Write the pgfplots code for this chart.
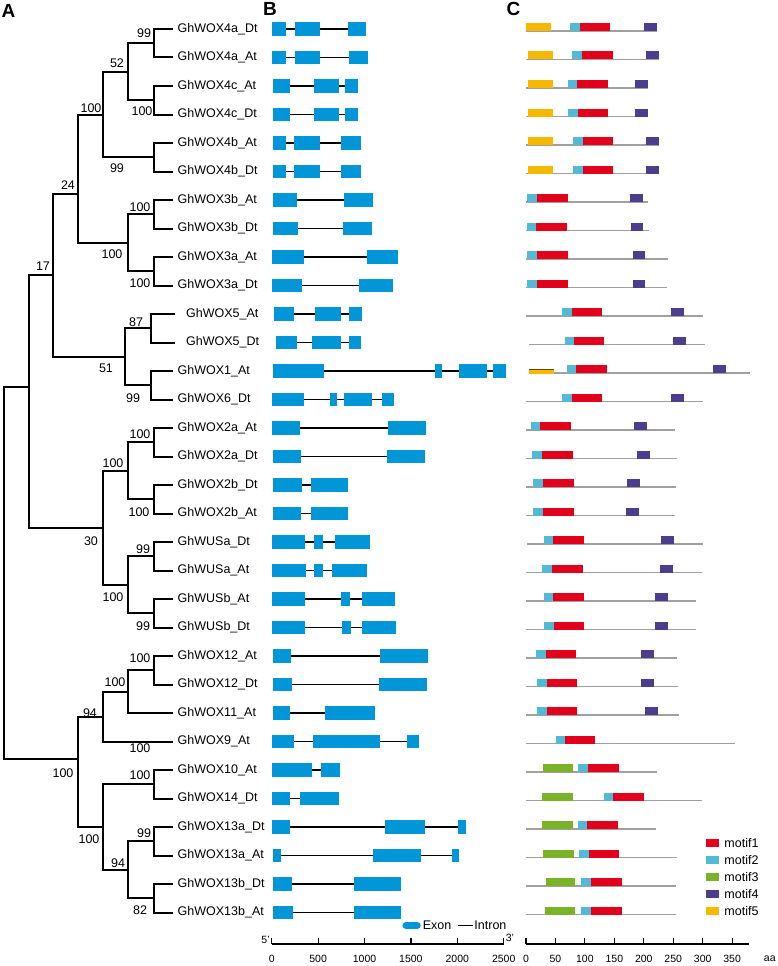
\documentclass[border=0pt]{standalone}
\usepackage{fontspec}
\setmainfont{Liberation Sans}
\usepackage{pgfplots}
\pgfplotsset{compat=1.18}
\definecolor{exonblue}{RGB}{0,150,215}
\definecolor{mred}{RGB}{226,0,26}
\definecolor{mcyan}{RGB}{82,186,214}
\definecolor{mgreen}{RGB}{122,178,40}
\definecolor{mpurple}{RGB}{76,62,140}
\definecolor{myellow}{RGB}{248,184,0}
\definecolor{protgray}{RGB}{160,160,160}
\newcommand{\lbl}{\fontsize{12.5}{14}\selectfont}
\newcommand{\bs}{\fontsize{12.5}{14}\selectfont}
\newcommand{\br}[5]{\addplot[tree] coordinates {(#3,-#2) (#1,-#2) (#1,-#4) (#5,-#4)};}
\newcommand{\intr}[3]{\addplot[intron] coordinates {(#2,-#1) (#3,-#1)};}
\newcommand{\ex}[3]{\addplot[exon] coordinates {(#2,-#1) (#3,-#1)};}
\newcommand{\prot}[3]{\addplot[prot] coordinates {(#2,-#1) (#3,-#1)};}
\newcommand{\mot}[4]{\addplot[#1] coordinates {(#3,-#2) (#4,-#2)};}
\newcommand{\leaf}[3]{\node[anchor=west,inner sep=0pt,font=\lbl] at (axis cs:#1,-#2) {#3};}
\newcommand{\boot}[3]{\node[inner sep=0pt,font=\bs] at (axis cs:#1,-#2) {#3};}
\pgfplotsset{
  tree/.style={black, line width=2pt},
  intron/.style={black, line width=1.8pt},
  exon/.style={draw=exonblue, line width=13.3pt},
  prot/.style={draw=protgray, line width=1.1pt},
  m1/.style={draw=mred, line width=8pt},
  m2/.style={draw=mcyan, line width=8pt},
  m3/.style={draw=mgreen, line width=8pt},
  m4/.style={draw=mpurple, line width=8pt},
  m5/.style={draw=myellow, line width=8pt},
}
\begin{document}
\begin{tikzpicture}
\useasboundingbox (0pt,-966pt) rectangle (778pt,0pt);
% ---------------- Panel A: tree ----------------
\begin{axis}[at={(0pt,0pt)}, anchor=north west, scale only axis, width=778pt, height=966pt,
  xmin=0, xmax=778, ymin=-966, ymax=0, hide axis, clip=false]
\br{154}{29}{173}{57.5}{173}
\br{154}{86}{173}{114.5}{173}
\br{128}{43.25}{154}{100.25}{154}
\br{154}{143}{173}{171.5}{173}
\br{103}{71.75}{128}{157.25}{154}
\br{154}{200}{173}{228.5}{173}
\br{154}{257}{173}{285.5}{173}
\br{128}{214.25}{154}{271.25}{154}
\br{78}{114.5}{103}{242.75}{128}
\br{151}{314}{175}{342.5}{175}
\br{151}{371}{173}{399.5}{173}
\br{125}{328.25}{151}{385.25}{151}
\br{53}{194}{78}{356.75}{125}
\br{154}{428}{173}{456.5}{173}
\br{154}{485}{173}{513.5}{173}
\br{128}{442.25}{154}{499.25}{154}
\br{154}{542}{173}{570.5}{173}
\br{154}{599}{173}{627.5}{173}
\br{128}{556.25}{154}{613.25}{154}
\br{103}{470.75}{128}{584.75}{128}
\br{29}{275.4}{53}{527.75}{103}
\br{154}{656}{173}{684.5}{173}
\br{128}{670.25}{154}{713}{173}
\br{103}{691.6}{128}{741.5}{173}
\br{154}{770}{173}{798.5}{173}
\br{154}{827}{173}{855.5}{173}
\br{154}{884}{173}{912.5}{173}
\br{128}{841.25}{154}{898.25}{154}
\br{103}{784.25}{154}{869.75}{128}
\br{78}{716.5}{103}{827}{103}
\br{4}{387}{29}{759}{78}
\leaf{177.5}{29}{GhWOX4a\_Dt}
\leaf{177.5}{57.5}{GhWOX4a\_At}
\leaf{177.5}{86}{GhWOX4c\_At}
\leaf{177.5}{114.5}{GhWOX4c\_Dt}
\leaf{177.5}{143}{GhWOX4b\_At}
\leaf{177.5}{171.5}{GhWOX4b\_Dt}
\leaf{177.5}{200}{GhWOX3b\_At}
\leaf{177.5}{228.5}{GhWOX3b\_Dt}
\leaf{177.5}{257}{GhWOX3a\_At}
\leaf{177.5}{285.5}{GhWOX3a\_Dt}
\leaf{186}{314}{GhWOX5\_At}
\leaf{186}{342.5}{GhWOX5\_Dt}
\leaf{177.5}{371}{GhWOX1\_At}
\leaf{177.5}{399.5}{GhWOX6\_Dt}
\leaf{177.5}{428}{GhWOX2a\_At}
\leaf{177.5}{456.5}{GhWOX2a\_Dt}
\leaf{177.5}{485}{GhWOX2b\_Dt}
\leaf{177.5}{513.5}{GhWOX2b\_At}
\leaf{177.5}{542}{GhWUSa\_Dt}
\leaf{177.5}{570.5}{GhWUSa\_At}
\leaf{177.5}{599}{GhWUSb\_At}
\leaf{177.5}{627.5}{GhWUSb\_Dt}
\leaf{177.5}{656}{GhWOX12\_At}
\leaf{177.5}{684.5}{GhWOX12\_Dt}
\leaf{177.5}{713}{GhWOX11\_At}
\leaf{177.5}{741.5}{GhWOX9\_At}
\leaf{177.5}{770}{GhWOX10\_At}
\leaf{177.5}{798.5}{GhWOX14\_Dt}
\leaf{177.5}{827}{GhWOX13a\_Dt}
\leaf{177.5}{855.5}{GhWOX13a\_At}
\leaf{177.5}{884}{GhWOX13b\_Dt}
\leaf{177.5}{912.5}{GhWOX13b\_At}
\boot{144}{33}{99}
\boot{117}{63}{52}
\boot{142}{111}{100}
\boot{91}{108}{100}
\boot{117}{168}{99}
\boot{68}{185}{24}
\boot{140}{207}{100}
\boot{112}{254}{100}
\boot{140}{283}{100}
\boot{43}{266}{17}
\boot{136}{322}{87}
\boot{106}{368}{51}
\boot{133}{398}{99}
\boot{140}{434}{100}
\boot{113}{463}{100}
\boot{139}{512}{100}
\boot{91}{541}{30}
\boot{143}{549}{99}
\boot{113}{597}{100}
\boot{143}{626}{99}
\boot{140}{658}{100}
\boot{115}{682}{100}
\boot{90}{713}{94}
\boot{140}{748}{100}
\boot{63}{773}{100}
\boot{140}{775}{100}
\boot{89}{839}{100}
\boot{144}{833}{99}
\boot{118}{863}{94}
\boot{140}{910}{82}
\node[font=\fontsize{19}{20}\selectfont\bfseries] at (axis cs:8.5,-11) {A};
\node[font=\fontsize{19}{20}\selectfont\bfseries] at (axis cs:270,-9) {B};
\node[font=\fontsize{19}{20}\selectfont\bfseries] at (axis cs:513.5,-9) {C};
\end{axis}
% ---------------- Panel B: gene structure ----------------
\begin{axis}[at={(271.7pt,0pt)}, anchor=north west, scale only axis, width=232pt, height=944pt,
  xmin=0, xmax=2500, ymin=-944, ymax=0, clip=false,
  axis x line*=bottom, axis y line=none,
  xtick={0,500,1000,1500,2000,2500}, tick align=inside, major tick length=6.5pt,
  axis line style={black, line width=1.2pt}, tick style={black, line width=1.2pt},
  /pgf/number format/1000 sep={}, /pgf/number format/assume math mode=true,
  xticklabel style={font=\fontsize{10.5}{12}\selectfont, yshift=-8pt}]
\intr{29}{0}{1021}\ex{29}{0}{150}\ex{29}{250}{521}\ex{29}{821}{1021}
\intr{57.5}{0}{1035}\ex{57.5}{0}{150}\ex{57.5}{250}{521}\ex{57.5}{830}{1035}
\intr{86}{10}{931}\ex{86}{10}{193}\ex{86}{457}{721}\ex{86}{792}{931}
\intr{114.5}{15}{931}\ex{114.5}{15}{200}\ex{114.5}{457}{725}\ex{114.5}{792}{931}
\intr{143}{18}{964}\ex{143}{18}{157}\ex{143}{243}{518}\ex{143}{742}{964}
\intr{171.5}{18}{964}\ex{171.5}{18}{157}\ex{171.5}{243}{518}\ex{171.5}{742}{964}
\intr{200}{10}{1089}\ex{200}{10}{275}\ex{200}{774}{1089}
\intr{228.5}{10}{1085}\ex{228.5}{10}{278}\ex{228.5}{764}{1085}
\intr{257}{7}{1363}\ex{257}{7}{353}\ex{257}{1031}{1363}
\intr{285.5}{7}{1303}\ex{285.5}{7}{325}\ex{285.5}{946}{1303}
\intr{314}{29}{974}\ex{314}{29}{243}\ex{314}{471}{742}\ex{314}{832}{974}
\intr{342.5}{43}{960}\ex{342.5}{43}{275}\ex{342.5}{432}{750}\ex{342.5}{828}{960}
\intr{371}{10}{2527}\ex{371}{10}{560}\ex{371}{1760}{1838}\ex{371}{2017}{2317}\ex{371}{2385}{2527}
\intr{399.5}{7}{1314}\ex{399.5}{7}{346}\ex{399.5}{625}{703}\ex{399.5}{774}{1085}\ex{399.5}{1189}{1314}
\intr{428}{0}{1667}\ex{428}{0}{300}\ex{428}{1256}{1667}
\intr{456.5}{10}{1653}\ex{456.5}{10}{321}\ex{456.5}{1242}{1653}
\intr{485}{10}{821}\ex{485}{10}{325}\ex{485}{421}{821}
\intr{513.5}{18}{821}\ex{513.5}{18}{321}\ex{513.5}{421}{821}
\intr{542}{3}{1064}\ex{542}{3}{360}\ex{542}{453}{550}\ex{542}{682}{1064}
\intr{570.5}{7}{1032}\ex{570.5}{7}{368}\ex{570.5}{453}{550}\ex{570.5}{650}{1032}
\intr{599}{0}{1331}\ex{599}{0}{357}\ex{599}{742}{839}\ex{599}{971}{1331}
\intr{627.5}{7}{1339}\ex{627.5}{7}{364}\ex{627.5}{753}{850}\ex{627.5}{978}{1339}
\intr{656}{10}{1689}\ex{656}{10}{203}\ex{656}{1167}{1689}
\intr{684.5}{18}{1671}\ex{684.5}{18}{214}\ex{684.5}{1153}{1671}
\intr{713}{10}{1117}\ex{713}{10}{200}\ex{713}{575}{1117}
\intr{741.5}{3}{1582}\ex{741.5}{3}{236}\ex{741.5}{442}{1171}\ex{741.5}{1460}{1582}
\intr{770}{3}{732}\ex{770}{3}{432}\ex{770}{535}{732}
\intr{798.5}{3}{725}\ex{798.5}{3}{200}\ex{798.5}{300}{725}
\intr{827}{7}{2089}\ex{827}{7}{200}\ex{827}{1224}{1656}\ex{827}{2003}{2089}
\intr{855.5}{14}{2013}\ex{855.5}{14}{96}\ex{855.5}{1089}{1610}\ex{855.5}{1942}{2013}
\intr{884}{10}{1389}\ex{884}{10}{221}\ex{884}{885}{1389}
\intr{912.5}{14}{1389}\ex{912.5}{14}{225}\ex{912.5}{892}{1389}
% legend
\addplot[draw=exonblue, line width=7.5pt, line cap=round] coordinates {(1449,-925.5) (1566,-925.5)};
\node[anchor=west, inner sep=0pt, font=\lbl] at (axis cs:1627,-925.5) {Exon};
\addplot[intron] coordinates {(2011,-925.5) (2166,-925.5)};
\node[anchor=west, inner sep=0pt, font=\lbl] at (axis cs:2183,-925.5) {Intron};
\node[anchor=east, inner sep=0pt, font=\fontsize{10.5}{12}\selectfont] at (axis cs:-20,-940) {5'};
\node[anchor=west, inner sep=0pt, font=\fontsize{10.5}{12}\selectfont] at (axis cs:2520,-938) {3'};
\end{axis}
% ---------------- Panel C: motifs ----------------
\begin{axis}[at={(526pt,0pt)}, anchor=north west, scale only axis, width=223.2pt, height=944pt,
  xmin=0, xmax=379, ymin=-944, ymax=0, clip=false,
  axis x line*=bottom, axis y line=none,
  xtick={0,50,100,150,200,250,300,350}, tick align=inside, major tick length=6.5pt,
  axis line style={black, line width=1.2pt}, tick style={black, line width=1.2pt},
  /pgf/number format/assume math mode=true,
  xticklabel style={font=\fontsize{10.5}{12}\selectfont, yshift=-8pt}]
\prot{31}{0}{223}\prot{59.5}{0}{226}\prot{88}{0}{207}\prot{116.5}{0}{207}
\prot{145}{0}{225}\prot{173.5}{0}{225}\prot{202}{0}{207}\prot{230.5}{0}{208.7}
\prot{259}{0}{241}\prot{287.5}{0}{238.6}\prot{316}{0}{300.7}\prot{344.5}{4.6}{304.6}
\prot{373}{4.6}{380}\prot{401.5}{0}{300.7}\prot{430}{0}{252.7}\prot{458.5}{0}{256}
\prot{487}{0}{254.4}\prot{515.5}{0}{252.7}\prot{544}{2.3}{300.7}\prot{572.5}{0}{299}
\prot{601}{0}{289.4}\prot{629.5}{0}{289.4}\prot{658}{0}{256}\prot{686.5}{0}{257.8}
\prot{715}{0}{260.6}\prot{743.5}{0}{354.8}\prot{772}{0}{221.7}\prot{800.5}{0}{299}
\prot{829}{0}{221}\prot{857.5}{0}{256}\prot{886}{0}{254.4}\prot{914.5}{0}{254.4}
% rows 0-5
\mot{m5}{27}{0.5}{43}\mot{m2}{27}{75}{91}\mot{m1}{27}{91}{143}\mot{m4}{27}{201}{223}
\mot{m5}{55.5}{3.5}{46}\mot{m2}{55.5}{78.5}{95}\mot{m1}{55.5}{95}{147}\mot{m4}{55.5}{204}{226}
\mot{m5}{84}{3.5}{46}\mot{m2}{84}{70.5}{86}\mot{m1}{84}{86}{139}\mot{m4}{84}{184.5}{206.5}
\mot{m5}{112.5}{3.5}{46}\mot{m2}{112.5}{70.5}{88}\mot{m1}{112.5}{88}{139}\mot{m4}{112.5}{185.5}{207}
\mot{m5}{141}{3.5}{46}\mot{m2}{141}{80}{96}\mot{m1}{141}{96}{148}\mot{m4}{141}{203}{225}
\mot{m5}{169.5}{3.5}{46}\mot{m2}{169.5}{80}{96}\mot{m1}{169.5}{96}{148}\mot{m4}{169.5}{203}{225}
% rows 6-9
\mot{m2}{198}{1.7}{18.7}\mot{m1}{198}{18.7}{70.5}\mot{m4}{198}{176}{198}
\mot{m2}{226.5}{1.7}{17.5}\mot{m1}{226.5}{17.5}{69.4}\mot{m4}{226.5}{177.7}{199}
\mot{m2}{255}{1.7}{18.7}\mot{m1}{255}{18.7}{70.5}\mot{m4}{255}{181.6}{202.5}
\mot{m2}{283.5}{1.7}{18.7}\mot{m1}{283.5}{18.7}{70.5}\mot{m4}{283.5}{181.6}{202.5}
% rows 10-13
\mot{m2}{312}{61.5}{78.5}\mot{m1}{312}{78.5}{129.8}\mot{m4}{312}{246}{268}
\mot{m2}{340.5}{65.5}{81}\mot{m1}{340.5}{81}{133}\mot{m4}{340.5}{250}{272}
\addplot[draw=myellow, line width=4.5pt] coordinates {(4.6,-371.5) (46.8,-371.5)};
\addplot[draw=black!60!myellow, line width=1pt] coordinates {(4.6,-369.5) (46.8,-369.5)};
\mot{m2}{369}{69.4}{85}\mot{m1}{369}{85}{137}\mot{m4}{369}{317.6}{340}
\mot{m2}{397.5}{61.5}{78.5}\mot{m1}{397.5}{78.5}{129.8}\mot{m4}{397.5}{246}{268}
% rows 14-21
\mot{m2}{426}{8}{23.7}\mot{m1}{426}{23.7}{76.2}\mot{m4}{426}{184}{206}
\mot{m2}{454.5}{10.8}{27.7}\mot{m1}{454.5}{27.7}{79}\mot{m4}{454.5}{188}{210}
\mot{m2}{483}{12}{29.4}\mot{m1}{483}{29.4}{80.7}\mot{m4}{483}{172}{194}
\mot{m2}{511.5}{12.5}{29.4}\mot{m1}{511.5}{29.4}{80.7}\mot{m4}{511.5}{169.2}{191.2}
\mot{m2}{540}{30}{45.7}\mot{m1}{540}{45.7}{98.8}\mot{m4}{540}{229}{251.6}
\mot{m2}{568.5}{27.7}{44}\mot{m1}{568.5}{44}{97.6}\mot{m4}{568.5}{227.4}{250}
\mot{m2}{597}{30}{45.7}\mot{m1}{597}{45.7}{99.3}\mot{m4}{597}{218.9}{241.4}
\mot{m2}{625.5}{30}{46.9}\mot{m1}{625.5}{46.9}{99.3}\mot{m4}{625.5}{218.9}{241.4}
% rows 22-25
\mot{m2}{654}{17.5}{33.8}\mot{m1}{654}{33.8}{85.2}\mot{m4}{654}{194.6}{216.6}
\mot{m2}{682.5}{18.7}{35}\mot{m1}{682.5}{35}{86.3}\mot{m4}{682.5}{195}{217}
\mot{m2}{711}{18.7}{35}\mot{m1}{711}{35}{86.3}\mot{m4}{711}{202.5}{224.6}
\mot{m2}{739.5}{50.2}{66.6}\mot{m1}{739.5}{66.6}{118}
% rows 26-31
\mot{m3}{768}{28.2}{79}\mot{m2}{768}{89}{105}\mot{m1}{768}{105}{157.4}
\mot{m3}{796.5}{27}{79.6}\mot{m2}{796.5}{132}{147.3}\mot{m1}{796.5}{147.3}{199.7}
\mot{m3}{825}{27}{79}\mot{m2}{825}{88.6}{104.4}\mot{m1}{825}{104.4}{156.8}
\mot{m3}{853.5}{29.4}{80.7}\mot{m2}{853.5}{90.8}{106.6}\mot{m1}{853.5}{106.6}{158.5}
\mot{m3}{882}{33.3}{84}\mot{m2}{882}{94.2}{110}\mot{m1}{882}{110}{162.5}
\mot{m3}{910.5}{32.2}{84}\mot{m2}{910.5}{93}{110}\mot{m1}{910.5}{110}{162.5}
% legend
\mot{m1}{843}{305}{327.6}\mot{m2}{860}{305}{327.6}\mot{m3}{877}{305}{327.6}
\mot{m4}{894}{305}{327.6}\mot{m5}{911}{305}{327.6}
\node[anchor=west, inner sep=0pt, font=\lbl] at (axis cs:336.7,-843) {motif1};
\node[anchor=west, inner sep=0pt, font=\lbl] at (axis cs:336.7,-860) {motif2};
\node[anchor=west, inner sep=0pt, font=\lbl] at (axis cs:336.7,-877) {motif3};
\node[anchor=west, inner sep=0pt, font=\lbl] at (axis cs:336.7,-894) {motif4};
\node[anchor=west, inner sep=0pt, font=\lbl] at (axis cs:336.7,-911) {motif5};
\node[inner sep=0pt, font=\fontsize{10.5}{12}\selectfont] at (axis cs:414,-959) {aa};
\end{axis}
\end{tikzpicture}
\end{document}
